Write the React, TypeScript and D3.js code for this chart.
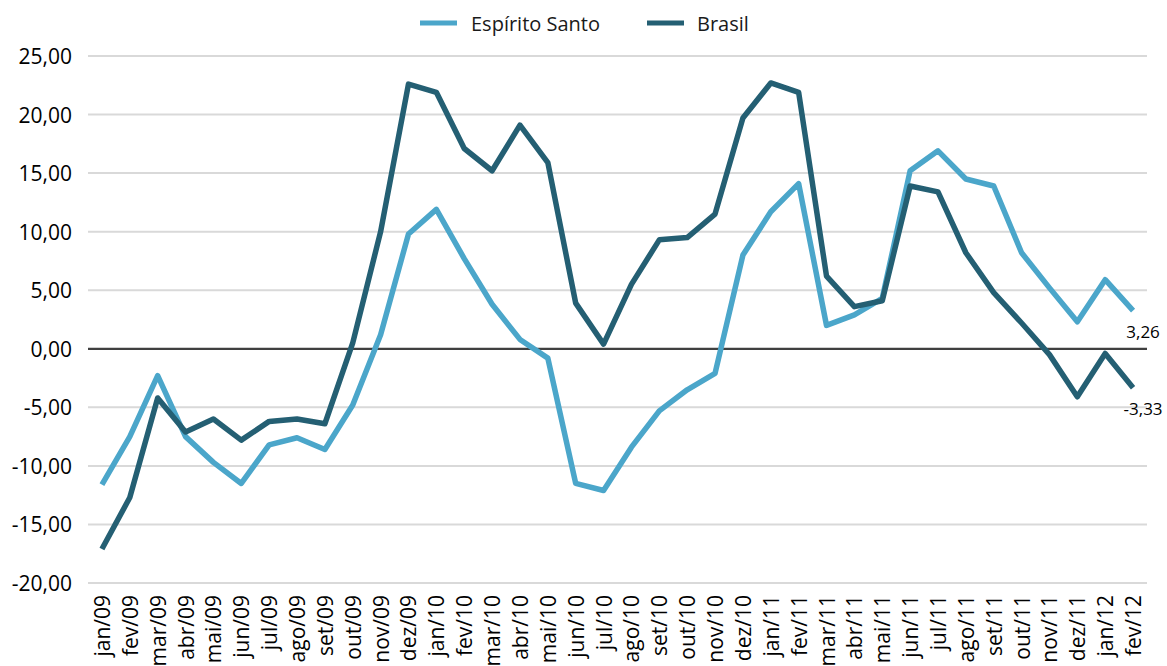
import React from "react";
import * as d3 from "d3";

const width = 1167,
  height = 666;

const months = [
  "jan/09", "fev/09", "mar/09", "abr/09", "mai/09", "jun/09", "jul/09", "ago/09", "set/09", "out/09", "nov/09", "dez/09",
  "jan/10", "fev/10", "mar/10", "abr/10", "mai/10", "jun/10", "jul/10", "ago/10", "set/10", "out/10", "nov/10", "dez/10",
  "jan/11", "fev/11", "mar/11", "abr/11", "mai/11", "jun/11", "jul/11", "ago/11", "set/11", "out/11", "nov/11", "dez/11",
  "jan/12", "fev/12",
];

const espiritoSanto = [
  -11.6, -7.5, -2.3, -7.5, -9.7, -11.5, -8.2, -7.6, -8.6, -4.8, 1.2, 9.8,
  11.9, 7.7, 3.8, 0.8, -0.8, -11.5, -12.1, -8.4, -5.3, -3.5, -2.1, 8.0,
  11.7, 14.1, 2.0, 2.9, 4.3, 15.2, 16.9, 14.5, 13.9, 8.2, 5.2, 2.3,
  5.9, 3.26,
];

const brasil = [
  -17.1, -12.7, -4.2, -7.1, -6.0, -7.8, -6.2, -6.0, -6.4, 0.5, 10.0, 22.6,
  21.9, 17.1, 15.2, 19.1, 15.9, 3.9, 0.4, 5.5, 9.3, 9.5, 11.5, 19.7,
  22.7, 21.9, 6.2, 3.6, 4.1, 13.9, 13.4, 8.2, 4.8, 2.2, -0.5, -4.1,
  -0.4, -3.33,
];

const yTicks = [-20, -15, -10, -5, 0, 5, 10, 15, 20, 25];

const series = [
  { name: "Espírito Santo", values: espiritoSanto, color: "#4ba6ca" },
  { name: "Brasil", values: brasil, color: "#245f73" },
];

const font = "'Open Sans', sans-serif";
// pt-BR style: comma decimal, plain hyphen for the minus sign
const fmt = (v: number) => d3.format(".2f")(v).replace("−", "-").replace(".", ",");

export default function App() {
  const x = d3.scaleBand<string>().domain(months).range([88, 1147]).padding(0);
  const y = d3.scaleLinear().domain([-20, 25]).range([583, 56]);
  const cx = (i: number) => (x(months[i]) as number) + x.bandwidth() / 2;

  const line = d3
    .line<number>()
    .x((_, i) => cx(i))
    .y((d) => y(d));

  const last = months.length - 1;

  return (
    <svg width={width} height={height} style={{ position: "absolute", left: 0, top: 0 }} fontFamily={font}>
      {/* grid */}
      {yTicks.map((t) => (
        <g key={t}>
          <line
            x1={88}
            x2={1147}
            y1={y(t)}
            y2={y(t)}
            stroke={t === 0 ? "#404040" : "#d9d9d9"}
            strokeWidth={t === 0 ? 2.2 : 2}
          />
          <text x={72} y={y(t)} textAnchor="end" dominantBaseline="central" fontSize={21} fill="#000">
            {fmt(t)}
          </text>
        </g>
      ))}

      {/* x labels */}
      {months.map((m, i) => (
        <text
          key={m}
          transform={`translate(${cx(i)},595) rotate(-90)`}
          textAnchor="end"
          dominantBaseline="central"
          fontSize={21}
          fill="#000"
        >
          {m}
        </text>
      ))}

      {/* lines */}
      {series.map((s) => (
        <path
          key={s.name}
          d={line(s.values) as string}
          fill="none"
          stroke={s.color}
          strokeWidth={5.5}
          strokeLinejoin="round"
        />
      ))}

      {/* end labels */}
      {series.map((s) => (
        <text
          key={s.name + "-lbl"}
          x={cx(last) + 10}
          y={y(s.values[last]) + 21}
          textAnchor="middle"
          dominantBaseline="central"
          fontSize={17}
          fill="#000"
        >
          {fmt(s.values[last])}
        </text>
      ))}

      {/* legend */}
      <g>
        <line x1={420} x2={457} y1={23} y2={23} stroke={series[0].color} strokeWidth={5} />
        <text x={471} y={23} dominantBaseline="central" fontSize={20} fill="#1a1a1a">
          {series[0].name}
        </text>
        <line x1={647} x2={684} y1={23} y2={23} stroke={series[1].color} strokeWidth={5} />
        <text x={697} y={23} dominantBaseline="central" fontSize={20} fill="#1a1a1a">
          {series[1].name}
        </text>
      </g>
    </svg>
  );
}
